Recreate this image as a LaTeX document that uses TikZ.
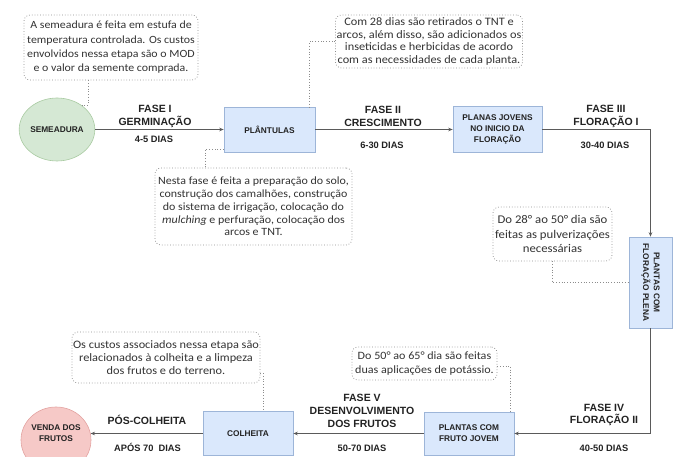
\documentclass[tikz,border=0pt]{standalone}
\usepackage{fontspec}
\setmainfont{Carlito}
\newfontfamily\notef{Carlito}[FakeStretch=1.08]
\newfontfamily\arialf{Liberation Sans}
\usetikzlibrary{arrows.meta,shapes.geometric}
\definecolor{flowc}{HTML}{5A5A5A}
\definecolor{notec}{HTML}{8C8C8C}
\definecolor{notet}{HTML}{333333}
\definecolor{textd}{HTML}{222222}
\definecolor{boxf}{HTML}{DAE8FC}
\definecolor{boxd}{HTML}{9DB5D8}
\definecolor{greenf}{HTML}{D5E8D4}
\definecolor{greend}{HTML}{A9CBA2}
\definecolor{redf}{HTML}{F6C9C7}
\definecolor{redd}{HTML}{E3A3A1}
\begin{document}
\begin{tikzpicture}[x=1pt,y=-1pt,
  flow/.style={draw=flowc, line width=0.8pt, -{Stealth[length=4.5pt,width=3.6pt]}},
  link/.style={draw=notec, line width=0.75pt, dotted},
  boxtext/.style={align=center, font=\arialf\bfseries\fontsize{8.3}{10.8}\selectfont, text=textd, inner sep=0pt},
  procbox/.style={boxtext, draw=boxd, fill=boxf, line width=0.6pt},
  note/.style={draw=notec, line width=0.75pt, dotted, rounded corners=6pt, align=center,
    text=notet, inner sep=0pt, fill=white},
  phase/.style={font=\arialf\bfseries\fontsize{10.5}{12.8}\selectfont, align=center, text=textd, inner sep=0pt},
  days/.style={font=\arialf\bfseries\fontsize{9.3}{11}\selectfont, text=textd, inner sep=0pt},
]
\useasboundingbox (0,0) rectangle (673,457);
\clip (0,0) rectangle (673,457);

% process nodes
\node[ellipse, draw=greend, fill=greenf, line width=0.6pt, minimum width=68pt, minimum height=63pt, inner sep=0pt, boxtext] (sem) at (57,129.5) {SEMEADURA};
\node[procbox, minimum width=91pt, minimum height=45pt] (plant) at (269.5,129.5) {PLÂNTULAS};
\node[procbox, minimum width=89pt, minimum height=46pt] (planas) at (497.5,129.5) {PLANAS JOVENS\\NO INICIO DA\\FLORAÇÃO};
\node[procbox, minimum width=43pt, minimum height=91pt] (vbox) at (650.5,282.5) {};
\node[boxtext, rotate=-90] (vboxtxt) at (vbox.center) {PLANTAS COM\\FLORAÇÃO PLENA};
\node[procbox, minimum width=90pt, minimum height=43pt] (fruto) at (469,433.5) {PLANTAS COM\\FRUTO JOVEM};
\node[procbox, minimum width=90pt, minimum height=44pt] (colh) at (248,433.5) {COLHEITA};
\node[ellipse, draw=redd, fill=redf, line width=0.6pt, minimum width=70pt, minimum height=66pt, inner sep=0pt,
  label={[boxtext, yshift=7pt]center:{VENDA DOS\\FRUTOS}}] (venda) at (56,440) {};

% flows
\draw[flow] (sem.east) -- (plant.west);
\draw[flow] (plant.east) -- (planas.west);
\draw[flow] (planas.east) -| (vbox.north);
\draw[flow] (vbox.south) |- (fruto.east);
\draw[flow] (fruto.west) -- (colh.east);
\draw[flow] (colh.west) -- (colh.west -| venda.11);

% phase labels
\node[phase] (f1) at (155,116.5) {FASE I\\GERMINAÇÃO};
\node[days] (d1) at (154,139) {4-5 DIAS};
\node[phase] (f2) at (383,116.5) {FASE II\\CRESCIMENTO};
\node[days] (d2) at (382,145) {6-30 DIAS};
\node[phase] (f3) at (606,116.5) {FASE III\\FLORAÇÃO I};
\node[days] (d3) at (605,145) {30-40 DIAS};
\node[phase] (f4) at (604,415) {FASE IV\\FLORAÇÃO II};
\node[days] (d4) at (604,448) {40-50 DIAS};
\node[phase] (f5) at (362,411) {FASE V\\DESENVOLVIMENTO\\DOS FRUTOS};
\node[days] (d5) at (362,448) {50-70 DIAS};
\node[phase] (f6) at (147,420) {PÓS-COLHEITA};
\node[days] (d6) at (147.5,447) {APÓS 70\ \ DIAS};

% notes
\node[note, minimum width=174pt, minimum height=65pt, font=\notef\fontsize{11}{14.3}\selectfont] (n1) at (111,47.5)
  {A semeadura é feita em estufa de\\temperatura controlada. Os custos\\envolvidos nessa etapa são o MOD\\e o valor da semente comprada.};
\node[note, minimum width=187pt, minimum height=53pt, font=\notef\fontsize{11.4}{12.8}\selectfont] (n2) at (429,41.5)
  {Com 28 dias são retirados o TNT e\\arcos, além disso, são adicionados os\\inseticidas e herbicidas de acordo\\com as necessidades de cada planta.};
\node[note, minimum width=197pt, minimum height=77pt, font=\notef\fontsize{11.1}{12.8}\selectfont] (n3) at (253.5,206.5)
  {Nesta fase é feita a preparação do solo,\\construção dos camalhões, construção\\do sistema de irrigação, colocação do\\\textit{mulching} e perfuração, colocação dos\\arcos e TNT.};
\node[note, minimum width=119pt, minimum height=54pt, font=\notef\fontsize{11.8}{14.4}\selectfont] (n4) at (552.5,234)
  {Do 28° ao 50° dia são\\feitas as pulverizações\\necessárias};
\node[note, minimum width=145pt, minimum height=33pt, font=\notef\fontsize{11.2}{14}\selectfont] (n5) at (424.5,363.5)
  {Do 50° ao 65° dia são feitas\\duas aplicações de potássio.};
\node[note, minimum width=188pt, minimum height=51pt, font=\notef\fontsize{11.4}{13}\selectfont] (n6) at (166,357.5)
  {Os custos associados nessa etapa são\\relacionados à colheita e a limpeza\\dos frutos e do terreno.};

% note links
\draw[link] ([xshift=-23pt]n1.south) |- (sem.45);
\draw[link] (n2.west) -| ([xshift=40pt]plant.north);
\draw[link] ([yshift=3pt]plant.south west) -| ([xshift=-48.5pt]n3.north);
\draw[link] (n4.south) |- (vbox.west);
\draw[link] ([yshift=-2.5pt]n5.east) -| ([xshift=-4pt]fruto.north east);
\draw[link] ([yshift=-15.5pt]n6.east) -| ([xshift=15pt]colh.north);
\end{tikzpicture}
\end{document}
